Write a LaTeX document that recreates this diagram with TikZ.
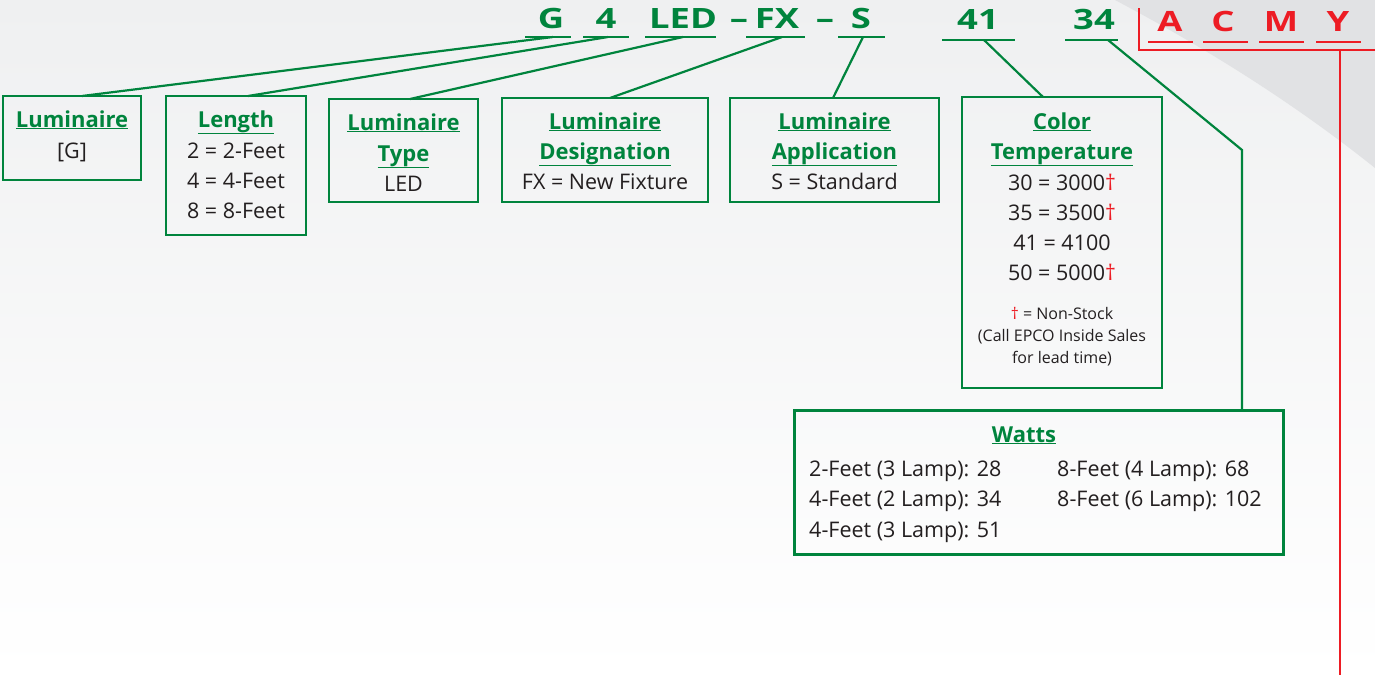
\documentclass[tikz,border=0pt]{standalone}
\usepackage{fontspec}
\setmainfont{Open Sans}
\usetikzlibrary{calc}
\definecolor{gr}{RGB}{0,132,61}
\definecolor{rd}{RGB}{237,28,36}
\definecolor{tx}{RGB}{35,31,32}
\definecolor{bgtop}{RGB}{239,240,241}
\definecolor{swoosh}{RGB}{225,226,228}
\tikzset{
  box/.style={draw=gr, line width=2.4pt, rectangle, inner sep=0pt, fill=none},
  wire/.style={draw=gr, line width=2.2pt},
  rwire/.style={draw=rd, line width=2.2pt},
  code/.style={text=gr, font=\fontsize{28}{28}\selectfont\bfseries, inner sep=0pt, anchor=base},
  rcode/.style={text=rd, font=\fontsize{28}{28}\selectfont\bfseries, inner sep=0pt, anchor=base},
  head/.style={text=gr, font=\fontsize{22}{30}\selectfont\bfseries, inner sep=0pt, anchor=base},
  body/.style={text=tx, font=\fontsize{21.5}{30}\selectfont, inner sep=0pt, anchor=base},
  small/.style={text=tx, font=\fontsize{16}{22}\selectfont, inner sep=0pt, anchor=base},
}
\newcommand{\hd}[1]{\underline{#1}}
\newcommand{\dg}{\textcolor{rd}{\char"2020}}
\newcommand{\wide}[1]{\scalebox{1.3}[1]{#1}}
\begin{document}
\begin{tikzpicture}[x=1pt,y=-1pt]
\useasboundingbox (0,0) rectangle (1375,675);
\shade[top color=bgtop, bottom color=white] (0,0) rectangle (1375,675);
\fill[swoosh] (1115,0) .. controls (1200,45) and (1290,100) .. (1375,168) -- (1375,0) -- cycle;

% code letters
\node[code] (cG) at (551,28) {\wide{G}};
\node[code] (c4) at (606,28) {\wide{4}};
\node[code] (cLED) at (683,28) {\wide{LED}};
\node[code] (cd1) at (739,28) {\wide{--}};
\node[code] (cFX) at (777,28) {\wide{FX}};
\node[code] (cd2) at (825,28) {\wide{--}};
\node[code] (cS) at (861,28) {\wide{S}};
\node[code] (c41) at (978,29) {\wide{41}};
\node[code] (c34) at (1094,29) {\wide{34}};
\node[rcode] (cA) at (1170,31) {\wide{A}};
\node[rcode] (cC) at (1223,31) {\wide{C}};
\node[rcode] (cM) at (1281,31) {\wide{M}};
\node[rcode] (cY) at (1338,31) {\wide{Y}};

% green underlines
\coordinate (uG1) at (525,37); \coordinate (uG2) at (571,37);
\coordinate (u41) at (583,37); \coordinate (u42) at (629,37);
\coordinate (uL1) at (645,37); \coordinate (uL2) at (716,37);
\coordinate (uF1) at (746,37); \coordinate (uF2) at (805,37);
\coordinate (uS1) at (838,37); \coordinate (uS2) at (885,37);
\coordinate (uT1) at (942,40); \coordinate (uT2) at (1015,40);
\coordinate (uW1) at (1065,40); \coordinate (uW2) at (1118,40);
\foreach \a in {G,4,L,F,S,T,W} \draw[wire] (u\a1) -- (u\a2);

% red bracket
\coordinate (rb0) at (1139,8); \coordinate (rb1) at (1139,50); \coordinate (rb2) at (1375,50);
\coordinate (rv0) at (1340,50); \coordinate (rv1) at (1340,675);
\draw[rwire] (rb0) -- (rb1) -- (rb2);
\draw[rwire] (rv0) -- (rv1);
\coordinate (ra1) at (1148,42); \coordinate (ra2) at (1193,42);
\coordinate (rc1) at (1203,42); \coordinate (rc2) at (1248,42);
\coordinate (rm1) at (1259,42); \coordinate (rm2) at (1304,42);
\coordinate (ry1) at (1316,42); \coordinate (ry2) at (1361,42);
\foreach \a in {a,c,m,y} \draw[rwire] (r\a1) -- (r\a2);

% boxes
\node[box, minimum width=138pt, minimum height=84pt] (bLum) at (72,138) {};
\node[box, minimum width=140pt, minimum height=139pt] (bLen) at (236,165.5) {};
\node[box, minimum width=149pt, minimum height=103pt] (bTyp) at (403.5,150.5) {};
\node[box, minimum width=206pt, minimum height=104pt] (bDes) at (605,150) {};
\node[box, minimum width=209pt, minimum height=104pt] (bApp) at (834.5,150) {};
\node[box, minimum width=200pt, minimum height=291pt] (bCol) at (1062,242.5) {};
\node[box, minimum width=489pt, minimum height=144pt] (bWat) at (1039,482.5) {};

% connectors
\coordinate (tLum) at (82,96);
\coordinate (tLen) at (248,96);
\coordinate (tTyp) at (410,99);
\coordinate (tDes) at (610,98);
\coordinate (tApp) at (833,98);
\coordinate (tCol) at (1043,97);
\coordinate (kW) at (1242,150);
\coordinate (tWat) at (1242,410.5);
\coordinate (sG) at (553,37);
\coordinate (s4) at (608,37);
\coordinate (sL) at (683,37);
\coordinate (sF) at (782,37);
\coordinate (sS) at (863,37);
\coordinate (sT) at (984,40);
\coordinate (sW) at (1108,40);
\draw[wire] (sG) -- (tLum);
\draw[wire] (s4) -- (tLen);
\draw[wire] (sL) -- (tTyp);
\draw[wire] (sF) -- (tDes);
\draw[wire] (sS) -- (tApp);
\draw[wire] (sT) -- (tCol);
\draw[wire] (sW) -- (kW) -- (tWat);

% texts
\node[head] (hLum) at (72,127) {\hd{Luminaire}};
\node[body] (tL1) at (72,158) {[G]};

\node[head] (hLen) at (236,127) {\hd{Length}};
\node[body] (tN1) at (236,158) {2 = 2-Feet};
\node[body] (tN2) at (236,188) {4 = 4-Feet};
\node[body] (tN3) at (236,218) {8 = 8-Feet};

\node[head] (hTy1) at (403.5,130) {\hd{Luminaire}};
\node[head] (hTy2) at (403.5,161) {\hd{Type}};
\node[body] (tTy) at (403.5,191) {LED};

\node[head] (hDe1) at (605,129) {\hd{Luminaire}};
\node[head] (hDe2) at (605,159) {\hd{Designation}};
\node[body] (tDe) at (605,189) {FX = New Fixture};

\node[head] (hAp1) at (834.5,129) {\hd{Luminaire}};
\node[head] (hAp2) at (834.5,159) {\hd{Application}};
\node[body] (tAp) at (834.5,189) {S = Standard};

\node[head] (hCo1) at (1062,129) {\hd{Color}};
\node[head] (hCo2) at (1062,159) {\hd{Temperature}};
\node[body] (tC1) at (1062,190) {30 = 3000\dg};
\node[body] (tC2) at (1062,220) {35 = 3500\dg};
\node[body] (tC3) at (1062,250) {41 = 4100};
\node[body] (tC4) at (1062,280) {50 = 5000\dg};
\node[small] (tC5) at (1062,319) {\dg{} = Non-Stock};
\node[small] (tC6) at (1062,341) {(Call EPCO Inside Sales};
\node[small] (tC7) at (1062,363) {for lead time)};

\node[head] (hWa) at (1024,442) {\hd{Watts}};
\node[body, anchor=base west] (w1) at (809,476) {2-Feet (3 Lamp): 28};
\node[body, anchor=base west] (w2) at (809,506) {4-Feet (2 Lamp): 34};
\node[body, anchor=base west] (w3) at (809,537) {4-Feet (3 Lamp): 51};
\node[body, anchor=base west] (w4) at (1057,476) {8-Feet (4 Lamp): 68};
\node[body, anchor=base west] (w5) at (1057,506) {8-Feet (6 Lamp): 102};
\end{tikzpicture}
\end{document}
